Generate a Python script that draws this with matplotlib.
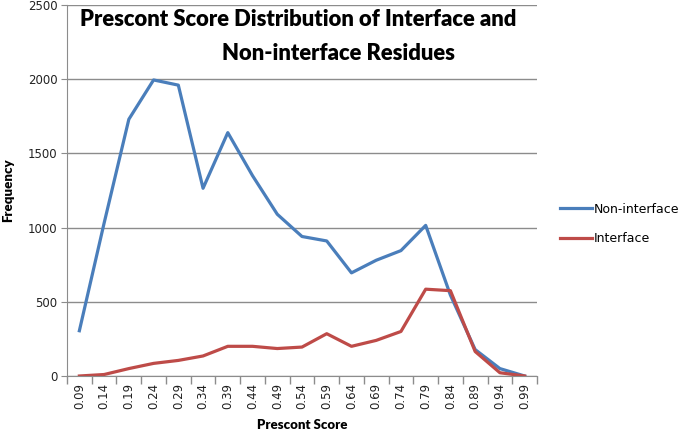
import matplotlib
matplotlib.use("Agg")
import matplotlib.pyplot as plt
import numpy as np

scores = ["0.09", "0.14", "0.19", "0.24", "0.29", "0.34", "0.39", "0.44", "0.49", "0.54",
          "0.59", "0.64", "0.69", "0.74", "0.79", "0.84", "0.89", "0.94", "0.99"]
non_interface = [305, 1030, 1730, 1995, 1960, 1265, 1640, 1350, 1090, 940,
                 910, 695, 780, 845, 1015, 545, 178, 50, 0]
interface = [0, 10, 50, 85, 105, 135, 200, 200, 185, 195,
             285, 200, 240, 300, 585, 575, 165, 22, 0]

fig = plt.figure(figsize=(6.85, 4.36), dpi=100)
ax = fig.add_axes([67/685, 1-376/436, 470/685, 371/436])

x = np.arange(len(scores))
ax.plot(x, non_interface, color="#4A7EBB", lw=2.3, label="Non-interface", solid_joinstyle="round")
ax.plot(x, interface, color="#BE4B48", lw=2.3, label="Interface", solid_joinstyle="round")

ax.set_xlim(-0.5, len(scores) - 0.5)
ax.set_ylim(0, 2500)
ax.set_yticks(np.arange(0, 2501, 500))
ax.yaxis.grid(True, color="#8c8c8c", lw=1)
ax.set_axisbelow(True)

ax.set_xticks(x)
ax.set_xticklabels(scores, rotation=90, fontsize=8.5, color="#222222")
ax.tick_params(axis="x", which="major", length=0, pad=5)
ax.set_xticks(np.arange(-0.5, len(scores)), minor=True)
ax.tick_params(axis="x", which="minor", length=6, color="#8c8c8c", width=1)
ax.tick_params(axis="y", length=4, color="#8c8c8c", labelsize=8.5, labelcolor="#222222", pad=3)

for s in ["top", "right"]:
    ax.spines[s].set_visible(False)
for s in ["left", "bottom"]:
    ax.spines[s].set_color("#8c8c8c")

ax.set_xlabel("Prescont Score", fontsize=9.5, fontweight="heavy", family="Lato", labelpad=7)
ax.set_ylabel("Frequency", fontsize=9.5, fontweight="heavy", family="Lato", labelpad=10)

fig.text(298/685, 1-19/436, "Prescont Score Distribution of Interface and",
         ha="center", va="center", fontsize=15.8, fontweight="heavy", family="Lato")
fig.text(338/685, 1-54/436, "Non-interface Residues",
         ha="center", va="center", fontsize=15.8, fontweight="heavy", family="Lato")

ax.legend(loc="center left", bbox_to_anchor=(1.026, 0.41), frameon=False, fontsize=9,
          handlelength=2.5, handletextpad=0.2, labelspacing=1.3)

fig.savefig("out.png", dpi=100)
